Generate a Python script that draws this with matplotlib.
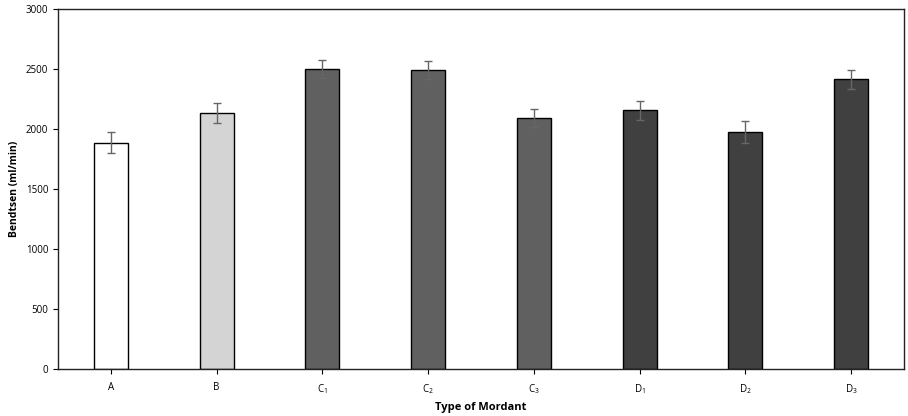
import numpy as np
import matplotlib.pyplot as plt

plt.rcParams['font.family'] = ['Open Sans', 'DejaVu Sans']

# data
labels = ['A', 'B', r'C$\mathregular{_1}$', r'C$\mathregular{_2}$', r'C$\mathregular{_3}$',
          r'D$\mathregular{_1}$', r'D$\mathregular{_2}$', r'D$\mathregular{_3}$']
values = [1888, 2133, 2503, 2492, 2092, 2158, 1978, 2414]
errors = [85, 85, 77, 77, 77, 80, 89, 78]
colors = ['#ffffff', '#d4d4d4', '#606060', '#606060', '#606060',
          '#404040', '#404040', '#404040']

fig = plt.figure(figsize=(9.08, 4.16), dpi=100)
ax = fig.add_axes([0.0639, 0.1123, 0.9317, 0.8657])

x = np.arange(len(values))
ax.bar(x, values, width=0.32, color=colors, edgecolor='black', linewidth=1.0,
       yerr=errors, capsize=3,
       error_kw=dict(ecolor='#666666', elinewidth=1.0, capthick=1.0))

ax.set_xlim(-0.5, len(values) - 0.5)
ax.set_ylim(0, 3000)
ax.set_yticks(np.arange(0, 3001, 500))
ax.set_xticks(x)
ax.set_xticklabels(labels)
ax.tick_params(axis='both', labelsize=7, length=3.5, width=0.8, direction='out')
ax.tick_params(axis='x', pad=6)

for s in ax.spines.values():
    s.set_linewidth(1.0)
    s.set_color('#222222')

ax.set_xlabel('Type of Mordant', fontsize=8, fontweight='bold', labelpad=4)
ax.set_ylabel('Bendtsen (ml/min)', fontsize=7.5, fontweight='bold', labelpad=4)

fig.savefig('out.png', dpi=100)
